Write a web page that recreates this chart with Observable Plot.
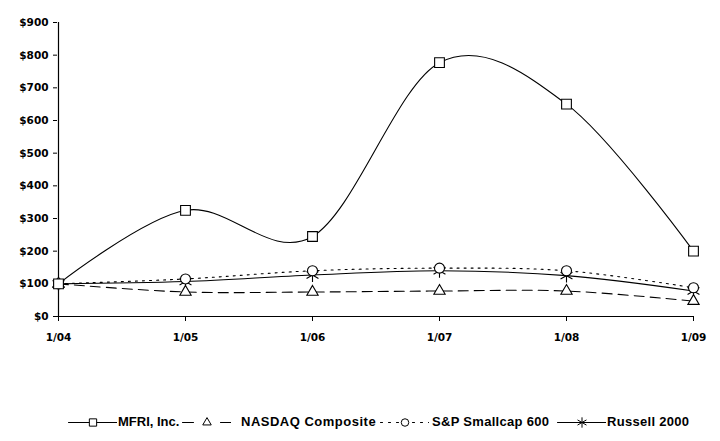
<!DOCTYPE html>
<html>
<head>
<meta charset="utf-8">
<script src="https://cdn.jsdelivr.net/npm/d3@7"></script>
<script src="https://cdn.jsdelivr.net/npm/@observablehq/plot@0.6"></script>
<style>
  body { margin: 0; background: #fff; width: 720px; height: 441px; overflow: hidden; position: relative; }
  #chart svg { display: block; }
  #legend { position: absolute; left: 0; top: 413px; width: 720px; height: 18px;
    font-family: "Liberation Sans Narrow", "Liberation Sans", Arial, sans-serif; font-weight: bold; font-size: 13px; color: #000; }
  .sample { position: absolute; top: 0; }
  .sample svg { display: block; }
  .lbl { position: absolute; top: 0; line-height: 18px; white-space: nowrap; }
</style>
</head>
<body>
<div id="chart"></div>
<div id="legend"></div>
<script>
const dates = ["1/04", "1/05", "1/06", "1/07", "1/08", "1/09"];
const seriesNames = ["MFRI, Inc.", "NASDAQ Composite", "S&P Smallcap 600", "Russell 2000"];
const mfri = [100, 325, 245, 777, 650, 200];
const nasdaq = [100, 75, 75, 78, 78, 47];
const sp600 = [100, 115, 140, 148, 140, 88];
const russell = [100, 107, 127, 140, 125, 78];
const yTicks = [0, 100, 200, 300, 400, 500, 600, 700, 800, 900];

const styles = {
  "MFRI, Inc.": {dash: null, legendDash: null, symbol: "square", r: 5.5},
  "NASDAQ Composite": {dash: "10,6", legendDash: "11,27", symbol: "triangle", r: 4.2},
  "S&P Smallcap 600": {dash: "2,5", legendDash: "2,6", symbol: "circle", r: 5},
  "Russell 2000": {dash: null, legendDash: null, symbol: "asterisk", r: 6.5}
};
const valuesBySeries = [mfri, nasdaq, sp600, russell];
const rows = [];
seriesNames.forEach((s, i) => dates.forEach((d, j) => rows.push({series: s, date: d, value: valuesBySeries[i][j]})));

const marks = [];
[...seriesNames].reverse().forEach(s => {
  const st = styles[s];
  const data = rows.filter(r => r.series === s);
  marks.push(Plot.line(data, {x: "date", y: "value", stroke: "#000", strokeWidth: 1.1,
    strokeDasharray: st.dash, curve: "cardinal", tension: 0}));
});
[...seriesNames].reverse().forEach(s => {
  const st = styles[s];
  const data = rows.filter(r => r.series === s);
  marks.push(Plot.dot(data, {x: "date", y: "value", symbol: () => st.symbol, r: st.r,
    stroke: "#000", strokeWidth: 1.1, fill: st.symbol === "asterisk" ? "none" : "white"}));
});

const chart = Plot.plot({
  width: 720,
  height: 352,
  marginLeft: 57,
  marginRight: 27,
  marginTop: 22,
  marginBottom: 36,
  style: {fontFamily: "'DejaVu Sans', sans-serif", fontWeight: "bold", fontSize: "10.5px", color: "#000", background: "#fff"},
  x: {type: "point", domain: dates, padding: 0, label: null, tickSize: 5, tickPadding: 12},
  y: {domain: [0, 900], ticks: yTicks, tickFormat: d => "$" + d, label: null, tickSize: 4, tickPadding: 5},
  symbol: {type: "identity"},
  marks: [
    Plot.ruleY([0], {stroke: "#000", strokeWidth: 1.2}),
    Plot.ruleX([dates[0]], {stroke: "#000", strokeWidth: 1.2}),
    ...marks
  ]
});
document.getElementById("chart").appendChild(chart);

const legendPos = [
  {name: "MFRI, Inc.", sx: 68, tx: 118, spacing: 0},
  {name: "NASDAQ Composite", sx: 182, tx: 241, spacing: 0.5},
  {name: "S&P Smallcap 600", sx: 380, tx: 432, spacing: 0.3},
  {name: "Russell 2000", sx: 557, tx: 607, spacing: 0.3}
];
const legend = document.getElementById("legend");
legendPos.forEach(p => {
  const st = styles[p.name];
  const wrap = document.createElement("div");
  wrap.className = "sample";
  wrap.style.left = p.sx + "px";
  const sample = Plot.plot({
    width: 49, height: 18, margin: 0,
    x: {domain: [0, 1], axis: null}, y: {domain: [0, 1], axis: null},
    symbol: {type: "identity"},
    marks: [
      Plot.line([[0, 0.5], [1, 0.5]], {stroke: "#000", strokeWidth: 1.1, strokeDasharray: st.legendDash}),
      Plot.dot([[0.5, 0.5]], {symbol: () => st.symbol, r: st.r * 0.75, stroke: "#000", strokeWidth: 1, fill: st.symbol === "asterisk" ? "none" : "white"})
    ]
  });
  wrap.appendChild(sample);
  legend.appendChild(wrap);
  const label = document.createElement("div");
  label.className = "lbl";
  label.textContent = p.name;
  label.style.left = p.tx + "px";
  label.style.letterSpacing = p.spacing + "px";
  legend.appendChild(label);
});
</script>
</body>
</html>
